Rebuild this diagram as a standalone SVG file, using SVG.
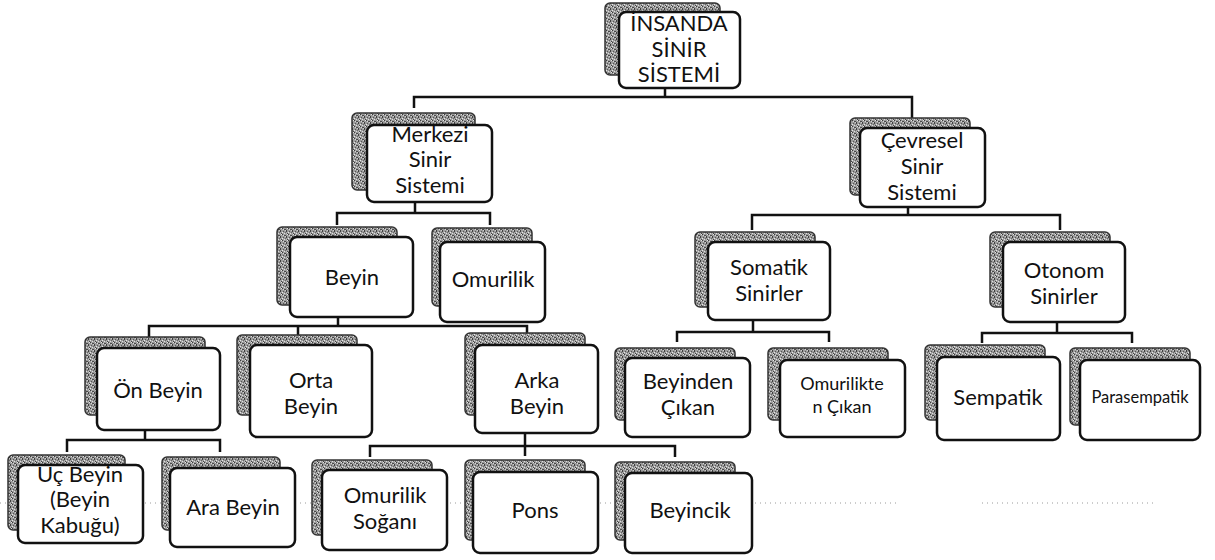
<svg xmlns="http://www.w3.org/2000/svg" width="1215" height="560" viewBox="0 0 1215 560">
<defs>
<pattern id="ht" width="6" height="6" patternUnits="userSpaceOnUse">
<rect width="6" height="6" fill="#9c9c9c"/>
<rect x="0" y="0" width="1" height="1" fill="#3a3a3a"/>
<rect x="2" y="1" width="2" height="1" fill="#4a4a4a"/>
<rect x="1" y="3" width="1" height="1" fill="#555"/>
<rect x="4" y="2" width="1" height="2" fill="#3f3f3f"/>
<rect x="5" y="5" width="1" height="1" fill="#444"/>
<rect x="3" y="4" width="1" height="1" fill="#666"/>
<rect x="1" y="1" width="1" height="1" fill="#d8d8d8"/>
<rect x="5" y="0" width="1" height="1" fill="#e4e4e4"/>
<rect x="0" y="4" width="1" height="1" fill="#e8e8e8"/>
<rect x="3" y="2" width="1" height="1" fill="#cfcfcf"/>
<rect x="2" y="5" width="1" height="1" fill="#dedede"/>
<rect x="4" y="5" width="1" height="1" fill="#bbb"/>
</pattern>
<style>
.sh{fill:url(#ht);stroke:#333;stroke-width:1.5}
.bx{fill:#fff;stroke:#111;stroke-width:2.5}
text{font-family:Lato,"Open Sans",sans-serif;font-size:22px;fill:#111;text-anchor:middle}
.sm{font-size:18px}
.xs{font-size:16.5px}
.cn path{fill:none;stroke:#111;stroke-width:2.5}
.dot{fill:none;stroke:#9a9a9a;stroke-width:1;stroke-dasharray:1 4}
</style>
</defs>
<rect width="1215" height="560" fill="#fff"/>
<path class="dot" d="M0,503 H900 M982,503 H1155"/>
<g class="cn" id="connectors">
<path d="M665,88 V97 M414,108 V97 H912 V118"/>
<path d="M415,202 V213 M337,225 V213 H490 V225"/>
<path d="M908,207 V215 M752,230 V215 H1060 V230"/>
<path d="M338,317 V326 M149,337 V326 H527 V337 M298,326 V335"/>
<path d="M753,320 V332 M677,342 V332 H829 V342"/>
<path d="M1057,322 V333 M982,343 V333 H1132 V343"/>
<path d="M145,430 V440 M67,452 V440 H220 V452"/>
<path d="M525,433 V446 M370,457 V446 H675 V457 M525,446 V456"/>
</g>
<g id="insanda">
<rect class="sh" x="605" y="3" width="115" height="72" rx="5"/>
<rect class="bx" x="619" y="12" width="121" height="76" rx="7"/>
<text x="679" y="31">İNSANDA</text><text x="679" y="57">SİNİR</text><text x="679" y="82">SİSTEMİ</text>
</g>
<g id="merkezi">
<rect class="sh" x="352" y="113" width="123" height="77" rx="5"/>
<rect class="bx" x="367" y="125" width="125" height="77" rx="7"/>
<text x="430" y="142">Merkezi</text><text x="430" y="167">Sinir</text><text x="430" y="193">Sistemi</text>
</g>
<g id="cevresel">
<rect class="sh" x="850" y="118" width="120" height="77" rx="5"/>
<rect class="bx" x="860" y="128" width="125" height="79" rx="7"/>
<text x="922" y="148">Çevresel</text><text x="922" y="174">Sinir</text><text x="922" y="200">Sistemi</text>
</g>
<g id="beyin">
<rect class="sh" x="277" y="227" width="120" height="78" rx="5"/>
<rect class="bx" x="290" y="237" width="123" height="80" rx="7"/>
<text x="352" y="285">Beyin</text>
</g>
<g id="omurilik">
<rect class="sh" x="432" y="228" width="100" height="78" rx="5"/>
<rect class="bx" x="440" y="242" width="105" height="80" rx="7"/>
<text x="493" y="287">Omurilik</text>
</g>
<g id="somatik">
<rect class="sh" x="695" y="232" width="120" height="75" rx="5"/>
<rect class="bx" x="708" y="242" width="122" height="78" rx="7"/>
<text x="769" y="275">Somatik</text><text x="769" y="301">Sinirler</text>
</g>
<g id="otonom">
<rect class="sh" x="990" y="232" width="120" height="75" rx="5"/>
<rect class="bx" x="1003" y="242" width="122" height="80" rx="7"/>
<text x="1064" y="278">Otonom</text><text x="1064" y="304">Sinirler</text>
</g>
<g id="onbeyin">
<rect class="sh" x="85" y="337" width="120" height="78" rx="5"/>
<rect class="bx" x="97" y="348" width="123" height="82" rx="7"/>
<text x="158" y="398">Ön Beyin</text>
</g>
<g id="ortabeyin">
<rect class="sh" x="237" y="335" width="120" height="80" rx="5"/>
<rect class="bx" x="250" y="345" width="122" height="92" rx="7"/>
<text x="311" y="388">Orta</text><text x="311" y="414">Beyin</text>
</g>
<g id="arkabeyin">
<rect class="sh" x="465" y="333" width="120" height="82" rx="5"/>
<rect class="bx" x="475" y="345" width="123" height="88" rx="7"/>
<text x="537" y="388">Arka</text><text x="537" y="414">Beyin</text>
</g>
<g id="beyinden">
<rect class="sh" x="615" y="348" width="120" height="72" rx="5"/>
<rect class="bx" x="625" y="358" width="125" height="79" rx="7"/>
<text x="688" y="389">Beyinden</text><text x="688" y="415">Çıkan</text>
</g>
<g id="omurilikten">
<rect class="sh" x="768" y="348" width="120" height="72" rx="5"/>
<rect class="bx" x="780" y="360" width="125" height="77" rx="7"/>
<text class="sm" x="842" y="390">Omurilikte</text><text class="sm" x="842" y="413">n Çıkan</text>
</g>
<g id="sempatik">
<rect class="sh" x="925" y="345" width="120" height="75" rx="5"/>
<rect class="bx" x="937" y="357" width="123" height="83" rx="7"/>
<text x="998" y="405">Sempatik</text>
</g>
<g id="parasempatik">
<rect class="sh" x="1070" y="348" width="120" height="77" rx="5"/>
<rect class="bx" x="1080" y="360" width="120" height="80" rx="7"/>
<text class="xs" x="1140" y="403">Parasempatik</text>
</g>
<g id="ucbeyin">
<rect class="sh" x="8" y="455" width="117" height="75" rx="5"/>
<rect class="bx" x="18" y="465" width="125" height="78" rx="7"/>
<text x="80" y="482">Uç Beyin</text><text x="80" y="507">(Beyin</text><text x="80" y="533">Kabuğu)</text>
</g>
<g id="arabeyin">
<rect class="sh" x="162" y="457" width="118" height="73" rx="5"/>
<rect class="bx" x="170" y="468" width="125" height="79" rx="7"/>
<text x="233" y="515">Ara Beyin</text>
</g>
<g id="omuriliksogani">
<rect class="sh" x="312" y="460" width="120" height="75" rx="5"/>
<rect class="bx" x="322" y="470" width="125" height="80" rx="7"/>
<text x="385" y="503">Omurilik</text><text x="385" y="529">Soğanı</text>
</g>
<g id="pons">
<rect class="sh" x="465" y="460" width="120" height="80" rx="5"/>
<rect class="bx" x="473" y="472" width="125" height="81" rx="7"/>
<text x="535" y="518">Pons</text>
</g>
<g id="beyincik">
<rect class="sh" x="615" y="462" width="120" height="78" rx="5"/>
<rect class="bx" x="625" y="473" width="127" height="80" rx="7"/>
<text x="690" y="518">Beyincik</text>
</g>
</svg>
